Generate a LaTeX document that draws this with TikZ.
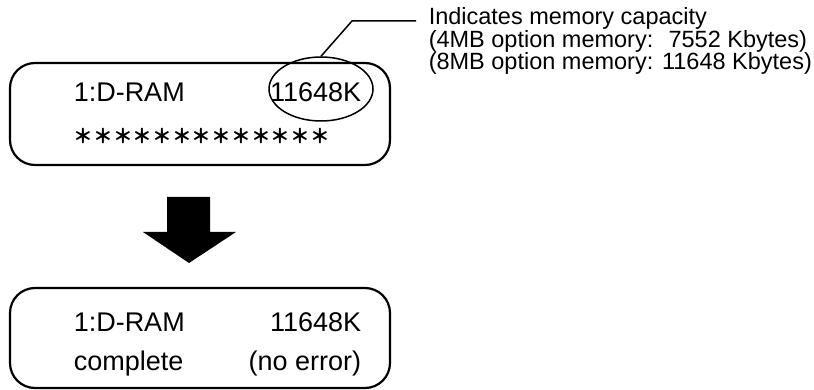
\documentclass[tikz,border=0pt]{standalone}
\usepackage{fontspec}
\setmainfont{Liberation Sans}
\newfontfamily\cjkfont{Noto Sans CJK SC}
\usetikzlibrary{shapes.geometric, positioning}

\tikzset{
  panel/.style={draw, line width=2.2pt, rounded corners=25pt, minimum width=380pt, inner sep=0pt},
  lcd/.style={inner sep=0pt, font=\fontsize{27}{27}\selectfont},
  note/.style={inner sep=0pt, align=left, font=\fontsize{23.5}{21.5}\selectfont},
}

\begin{document}
\begin{tikzpicture}[x=1pt, y=-1pt, line width=1.5pt]
        \useasboundingbox (0,0) rectangle (814,390);

        % Display before the check
        \node[panel, minimum height=102pt] (topbox) at (200,114) {};
        \node[lcd, anchor=base west] (topname) at (73,102) {1:D-RAM};
        \node[lcd, anchor=base east] (topsize) at (362,102) {11648K};
        \node[inner sep=0pt, anchor=west, font=\cjkfont\bfseries\fontsize{19.7}{19.7}\selectfont] (stars) at (73,136) {＊＊＊＊＊＊＊＊＊＊＊＊＊};

        % Ring and leader to the note
        \node[draw, ellipse, minimum width=104pt, minimum height=64pt] (capring) at (321,89) {};
        \node[note, anchor=base west] (capnote) at (428,70) {Indicates memory capacity\\(4MB option memory: \ 7552 Kbytes)\\(8MB option memory: 11648 Kbytes)};
        \coordinate (knee) at (352,21);
        \draw (capring.north) -- (knee) -- (416,21);

        % Down arrow
        \fill (167,197) -- (210,197) -- (210,232) -- (236,232) -- (189,263) -- (143,232) -- (167,232) -- cycle;

        % Display after the check
        \node[panel, minimum height=100pt] (botbox) at (200,338) {};
        \node[lcd, anchor=base west] (botname) at (73,331) {1:D-RAM};
        \node[lcd, anchor=base east] (botsize) at (362,331) {11648K};
        \node[lcd, anchor=base west] (botstate) at (73,370) {complete};
        \node[lcd, anchor=base east] (botresult) at (362,370) {(no error)};

    \end{tikzpicture}
\end{document}
